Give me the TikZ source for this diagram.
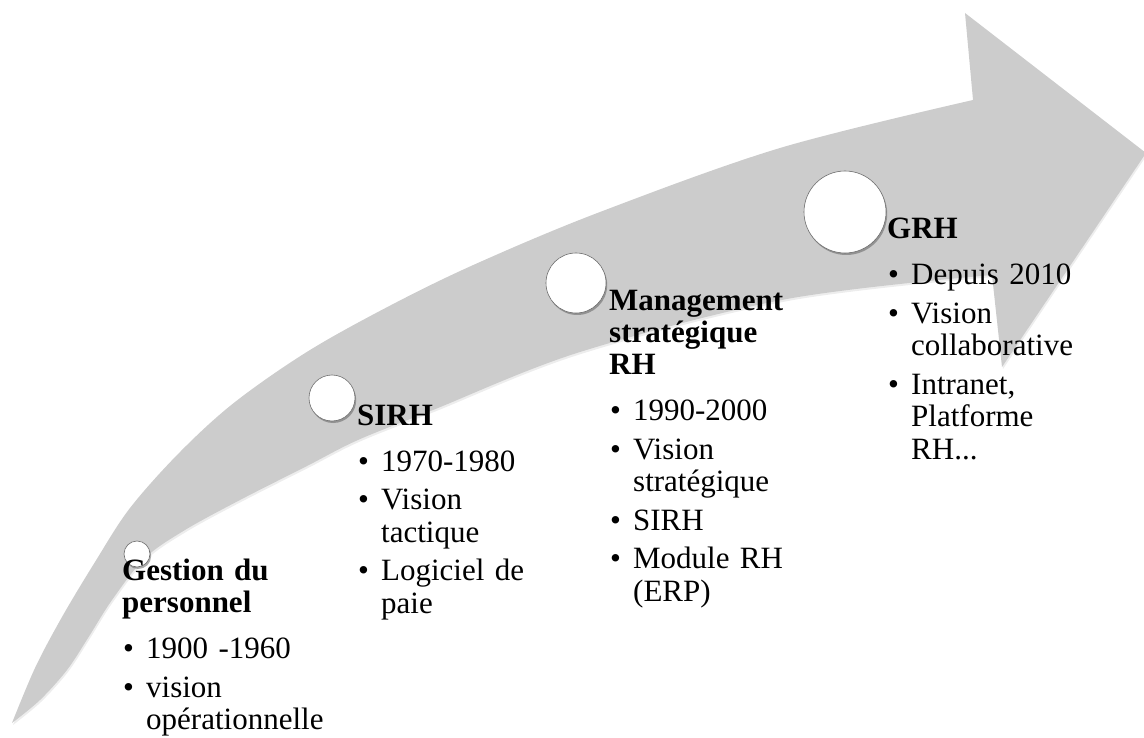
\documentclass[tikz,border=0pt]{standalone}
\usepackage{fontspec}
\setmainfont{Liberation Serif}
\usetikzlibrary{shadows}
\definecolor{arrowgray}{RGB}{204,204,204}
\definecolor{rimgray}{RGB}{110,110,110}
\newcommand{\bitem}[1]{\par\hangindent=24pt\hangafter=1\noindent\makebox[24pt][l]{\hspace{1pt}\textbullet}#1\par}
\newcommand{\titlegap}{\par\vspace{13.5pt}}
\newcommand{\itemgap}{\vspace{6pt}}
\tikzset{
  lbl/.style={anchor=base west, inner sep=0pt, text width=300pt,
    font=\fontsize{31}{32.5}\selectfont},
  dot/.style={circle, fill=white, draw=rimgray, line width=0.6pt, inner sep=0pt,
    drop shadow={shadow xshift=1.2pt, shadow yshift=-2pt, opacity=0.45, fill=black!70}},
}
\begin{document}
\begin{tikzpicture}[x=1pt,y=-1pt]
\useasboundingbox (0,0) rectangle (1144,738);
\def\arrowpath{plot[smooth, tension=0.55] coordinates {(12,723) (35,668) (62,617) (95,562) (130,508) (180,452) (235,402) (310,350) (397,302) (480,262) (600,212) (780,148) (973,100)} -- (965,13) -- (1146,153) -- (1002,367) -- (992,275) -- plot[smooth, tension=0.55] coordinates {(992,275) (787,299) (580,352) (433,410) (358,440) (307,466) (240,500) (185,530) (145,558) (112,600) (88,638) (67,670) (40,700) (12,723)} -- cycle}
% arrow shadow and body
\fill[black, opacity=0.07, shift={(1,2)}] \arrowpath;
\fill[arrowgray] \arrowpath;
% circles
\node[dot, minimum size=26pt] (c1) at (137,554) {};
\node[dot, minimum size=46pt] (c2) at (332,398) {};
\node[dot, minimum size=60pt] (c3) at (576,283) {};
\node[dot, minimum size=82pt] (c4) at (845,212) {};
% texts
\node[lbl] (t1) at (122,580) {\textbf{Gestion du}\newline\textbf{personnel}\titlegap
  \bitem{1900 -1960}\itemgap
  \bitem{vision\newline opérationnelle}};
\node[lbl] (t2) at (357,425) {\textbf{SIRH}\titlegap
  \bitem{1970-1980}\itemgap
  \bitem{Vision\newline tactique}\itemgap
  \bitem{Logiciel de\newline paie}};
\node[lbl] (t3) at (609,310) {\textbf{Management}\newline\textbf{stratégique}\newline\textbf{RH}\titlegap
  \bitem{1990-2000}\itemgap
  \bitem{Vision\newline stratégique}\itemgap
  \bitem{SIRH}\itemgap
  \bitem{Module RH\newline (ERP)}};
\node[lbl] (t4) at (887,239) {\textbf{GRH}\titlegap
  \bitem{Depuis 2010}\itemgap
  \bitem{Vision\newline collaborative}\itemgap
  \bitem{Intranet,\newline Platforme\newline RH...}};
\end{tikzpicture}
\end{document}
